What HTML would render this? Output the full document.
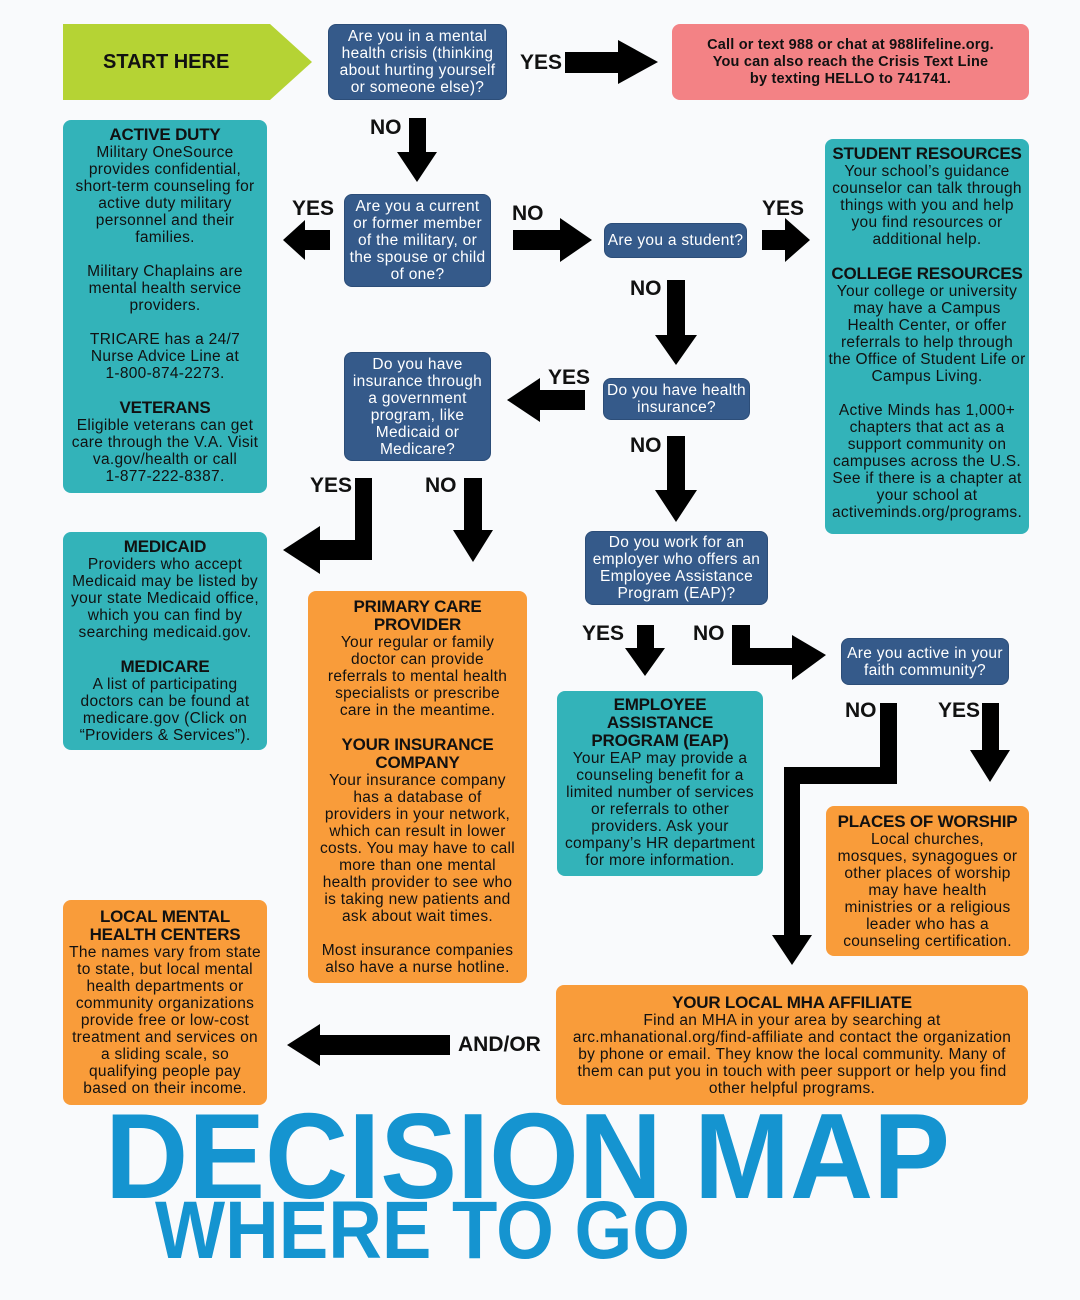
<!DOCTYPE html>
<html><head><meta charset="utf-8">
<style>
html,body{margin:0;padding:0}
body{width:1080px;height:1300px;background:#f9fafc;position:relative;overflow:hidden;font-family:"Liberation Sans",sans-serif}
.b{position:absolute;box-sizing:border-box;border-radius:8px;text-align:center;font-size:15.5px;line-height:17px;color:#111;letter-spacing:0.3px;display:flex;flex-direction:column;justify-content:center;white-space:nowrap}
.q{background:#355a8a;color:#fff;border:1px solid #2c4d78}
.t{background:#33b3b9}
.o{background:#f99c3a}
.h{font-weight:bold;font-size:17px;line-height:18px;letter-spacing:-0.2px}
.l{position:absolute;font-weight:bold;font-size:21px;color:#111}
svg{position:absolute;left:0;top:0}
</style></head><body>
<svg width="1080" height="1300">
<polygon points="63,24 270,24 312,62 270,100 63,100" fill="#b5d334"/>
<g fill="#000">
<polygon points="565,52 618,52 618,40 658,62 618,84 618,73 565,73"/>
<polygon points="409,118 426,118 426,152 437,152 417,182 397,152 409,152"/>
<polygon points="330,230 305,230 305,220 283,240 305,260 305,250 330,250"/>
<polygon points="513,230 560,230 560,218 592,240 560,262 560,250 513,250"/>
<polygon points="762,230 785,230 785,218 810,240 785,262 785,250 762,250"/>
<polygon points="667,280 685,280 685,335 697,335 676,365 655,335 667,335"/>
<polygon points="585,390 540,390 540,378 507,400 540,422 540,410 585,410"/>
<polygon points="355,478 372,478 372,560 320,560 320,574 283,550 320,526 320,540 355,540"/>
<polygon points="464,478 482,478 482,530 493,530 473,562 453,530 464,530"/>
<polygon points="667,436 685,436 685,490 697,490 676,522 655,490 667,490"/>
<polygon points="637,625 654,625 654,648 665,648 645,676 625,648 637,648"/>
<polygon points="732,625 750,625 750,648 792,648 792,635 826,655 792,680 792,665 732,665"/>
<polygon points="880,703 897,703 897,784 800,784 800,935 812,935 792,965 772,935 784,935 784,767 880,767"/>
<polygon points="982,703 999,703 999,750 1010,750 990,782 970,750 982,750"/>
<polygon points="450,1035 320,1035 320,1024 287,1045 320,1066 320,1055 450,1055"/>
</g>
<text x="105" y="1198" font-family="Liberation Sans" font-weight="bold" font-size="122" fill="#1594d0" textLength="845" lengthAdjust="spacingAndGlyphs">DECISION MAP</text>
<text x="155" y="1258" font-family="Liberation Sans" font-weight="bold" font-size="82" fill="#1594d0" textLength="535" lengthAdjust="spacingAndGlyphs">WHERE TO GO</text>
</svg>
<div class="l" style="left:103px;top:51px;font-size:20px">START HERE</div>

<div class="b q" style="left:328px;top:24px;width:179px;height:76px">Are you in a mental<br>health crisis (thinking<br>about hurting yourself<br>or someone else)?</div>
<div class="l" style="left:520px;top:51px">YES</div>
<div class="b" style="left:672px;top:24px;width:357px;height:76px;background:#f38285;font-weight:bold;font-size:14.5px;letter-spacing:0.2px">Call or text 988 or chat at 988lifeline.org.<br>You can also reach the Crisis Text Line<br>by texting HELLO to 741741.</div>
<div class="l" style="left:370px;top:116px">NO</div>

<div class="b t" style="left:63px;top:120px;width:204px;height:373px;justify-content:flex-start;padding-top:6px"><div class="h">ACTIVE DUTY</div>Military OneSource<br>provides confidential,<br>short-term counseling for<br>active duty military<br>personnel and their<br>families.<br><br>Military Chaplains are<br>mental health service<br>providers.<br><br>TRICARE has a 24/7<br>Nurse Advice Line at<br>1-800-874-2273.<br><br><div class="h">VETERANS</div>Eligible veterans can get<br>care through the V.A. Visit<br>va.gov/health or call<br>1-877-222-8387.</div>

<div class="l" style="left:292px;top:197px">YES</div>
<div class="b q" style="left:344px;top:194px;width:147px;height:93px">Are you a current<br>or former member<br>of the military, or<br>the spouse or child<br>of one?</div>
<div class="l" style="left:512px;top:202px">NO</div>
<div class="b q" style="left:604px;top:223px;width:143px;height:35px">Are you a student?</div>
<div class="l" style="left:762px;top:197px">YES</div>

<div class="b t" style="left:825px;top:139px;width:204px;height:395px;justify-content:flex-start;padding-top:6px"><div class="h">STUDENT RESOURCES</div>Your school’s guidance<br>counselor can talk through<br>things with you and help<br>you find resources or<br>additional help.<br><br><div class="h">COLLEGE RESOURCES</div>Your college or university<br>may have a Campus<br>Health Center, or offer<br>referrals to help through<br>the Office of Student Life or<br>Campus Living.<br><br>Active Minds has 1,000+<br>chapters that act as a<br>support community on<br>campuses across the U.S.<br>See if there is a chapter at<br>your school at<br>activeminds.org/programs.</div>

<div class="l" style="left:630px;top:277px">NO</div>
<div class="b q" style="left:603px;top:378px;width:147px;height:42px">Do you have health<br>insurance?</div>
<div class="l" style="left:548px;top:366px">YES</div>
<div class="b q" style="left:344px;top:352px;width:147px;height:109px">Do you have<br>insurance through<br>a government<br>program, like<br>Medicaid or<br>Medicare?</div>
<div class="l" style="left:630px;top:434px">NO</div>
<div class="l" style="left:310px;top:474px">YES</div>
<div class="l" style="left:425px;top:474px">NO</div>

<div class="b q" style="left:585px;top:531px;width:183px;height:74px">Do you work for an<br>employer who offers an<br>Employee Assistance<br>Program (EAP)?</div>

<div class="b t" style="left:63px;top:532px;width:204px;height:218px"><div class="h">MEDICAID</div>Providers who accept<br>Medicaid may be listed by<br>your state Medicaid office,<br>which you can find by<br>searching medicaid.gov.<br><br><div class="h">MEDICARE</div>A list of participating<br>doctors can be found at<br>medicare.gov (Click on<br>“Providers &amp; Services”).</div>

<div class="b o" style="left:308px;top:591px;width:219px;height:392px"><div class="h">PRIMARY CARE<br>PROVIDER</div>Your regular or family<br>doctor can provide<br>referrals to mental health<br>specialists or prescribe<br>care in the meantime.<br><br><div class="h">YOUR INSURANCE<br>COMPANY</div>Your insurance company<br>has a database of<br>providers in your network,<br>which can result in lower<br>costs. You may have to call<br>more than one mental<br>health provider to see who<br>is taking new patients and<br>ask about wait times.<br><br>Most insurance companies<br>also have a nurse hotline.</div>

<div class="l" style="left:582px;top:622px">YES</div>
<div class="l" style="left:693px;top:622px">NO</div>
<div class="b q" style="left:841px;top:638px;width:168px;height:47px">Are you active in your<br>faith community?</div>

<div class="b t" style="left:557px;top:691px;width:206px;height:185px;justify-content:flex-start;padding-top:5px"><div class="h">EMPLOYEE<br>ASSISTANCE<br>PROGRAM (EAP)</div>Your EAP may provide a<br>counseling benefit for a<br>limited number of services<br>or referrals to other<br>providers. Ask your<br>company’s HR department<br>for more information.</div>

<div class="l" style="left:845px;top:699px">NO</div>
<div class="l" style="left:938px;top:699px">YES</div>

<div class="b o" style="left:826px;top:806px;width:203px;height:150px"><div class="h">PLACES OF WORSHIP</div>Local churches,<br>mosques, synagogues or<br>other places of worship<br>may have health<br>ministries or a religious<br>leader who has a<br>counseling certification.</div>

<div class="b o" style="left:63px;top:900px;width:204px;height:205px"><div class="h">LOCAL MENTAL<br>HEALTH CENTERS</div>The names vary from state<br>to state, but local mental<br>health departments or<br>community organizations<br>provide free or low-cost<br>treatment and services on<br>a sliding scale, so<br>qualifying people pay<br>based on their income.</div>

<div class="l" style="left:458px;top:1033px">AND/OR</div>

<div class="b o" style="left:556px;top:985px;width:472px;height:120px"><div class="h">YOUR LOCAL MHA AFFILIATE</div>Find an MHA in your area by searching at<br>arc.mhanational.org/find-affiliate and contact the organization<br>by phone or email. They know the local community. Many of<br>them can put you in touch with peer support or help you find<br>other helpful programs.</div>
</body></html>
